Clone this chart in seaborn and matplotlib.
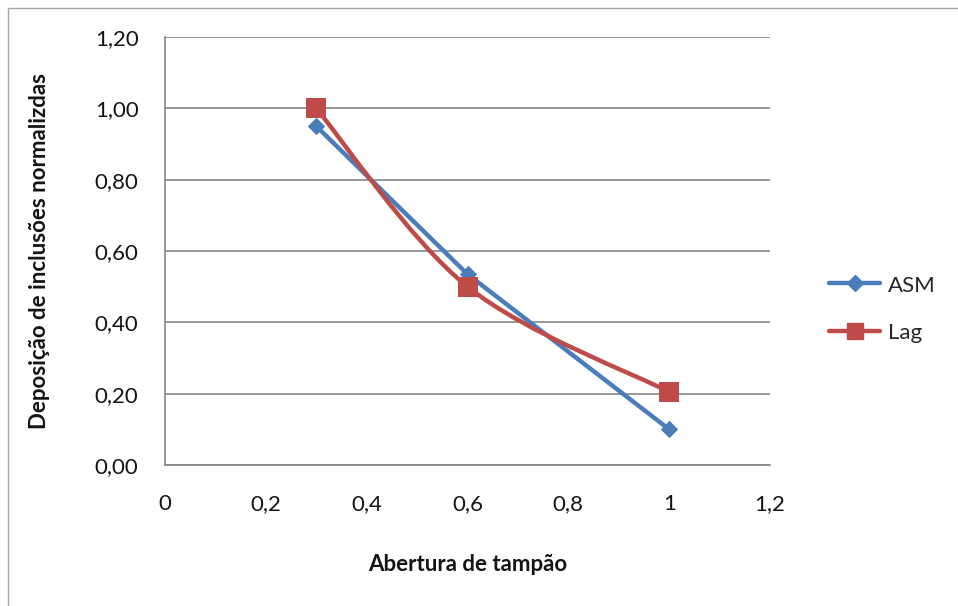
import numpy as np
import pandas as pd
import matplotlib
matplotlib.use("Agg")
import matplotlib.pyplot as plt
from matplotlib.path import Path
from matplotlib.patches import PathPatch, Rectangle
from matplotlib.lines import Line2D
from matplotlib.ticker import FuncFormatter
import seaborn as sns

# Data
abertura = [0.3, 0.6, 1.0]
asm_vals = [0.95, 0.535, 0.10]
lag_vals = [1.00, 0.50, 0.205]
series_names = ["ASM", "Lag"]
x_ticks = [0, 0.2, 0.4, 0.6, 0.8, 1.0, 1.2]
y_ticks = [0.0, 0.2, 0.4, 0.6, 0.8, 1.0, 1.2]

BLUE = "#4A7EBB"
RED = "#BE4B48"
GRID = "#868686"
TEXT = "#141414"
FS = 16

sns.set_theme(style="white")
plt.rcParams["font.family"] = ["Lato", "DejaVu Sans"]

df = pd.DataFrame({
    "x": abertura * 2,
    "y": asm_vals + lag_vals,
    "serie": [series_names[0]] * 3 + [series_names[1]] * 3,
})

fig = plt.figure(figsize=(9.58, 6.06), dpi=100)
ax = fig.add_axes([165 / 958, 1 - 465 / 606, (770 - 165) / 958, (465 - 37) / 606])

# Outer chart border
fig.add_artist(Rectangle((8 / 958, -0.05), 1.2, 1 - 8 / 606 + 0.05,
                         transform=fig.transFigure, fill=False,
                         edgecolor="#A6A6A6", linewidth=1.0))

# Horizontal gridlines
for yv in y_ticks:
    ax.axhline(yv, color=GRID, linewidth=1.2, zorder=0)

# ASM: straight segments with diamond markers
asm = df[df["serie"] == "ASM"]
sns.lineplot(data=asm, x="x", y="y", ax=ax, color=BLUE, linewidth=3.2,
             marker="D", markersize=8.5, markeredgecolor=BLUE, zorder=3,
             legend=False)

# Lag: smoothed (Catmull-Rom as cubic Bezier) with square markers
lag = df[df["serie"] == "Lag"]
pts = np.column_stack([lag["x"].to_numpy(), lag["y"].to_numpy()])
ext = np.vstack([pts[0], pts, pts[-1]])
verts = [tuple(pts[0])]
codes = [Path.MOVETO]
for i in range(len(pts) - 1):
    p0, p1, p2, p3 = ext[i], ext[i + 1], ext[i + 2], ext[i + 3]
    c1 = p1 + (p2 - p0) / 6.0
    c2 = p2 - (p3 - p1) / 6.0
    verts += [tuple(c1), tuple(c2), tuple(p2)]
    codes += [Path.CURVE4] * 3
ax.add_patch(PathPatch(Path(verts, codes), facecolor="none", edgecolor=RED,
                       linewidth=3.2, capstyle="round", joinstyle="round",
                       zorder=4))
sns.scatterplot(data=lag, x="x", y="y", ax=ax, color=RED, marker="s", s=210,
                edgecolor=RED, linewidth=0, zorder=5, legend=False)

ax.set_xlim(0, 1.2)
ax.set_ylim(0, 1.2)
ax.set_xticks(x_ticks)
ax.set_yticks(y_ticks)
ax.xaxis.set_major_formatter(FuncFormatter(lambda v, p: f"{v:g}".replace(".", ",")))
ax.yaxis.set_major_formatter(FuncFormatter(lambda v, p: f"{v:.2f}".replace(".", ",")))
ax.tick_params(axis="x", length=0, pad=21, labelsize=FS, colors=TEXT)
ax.tick_params(axis="y", length=0, pad=19, labelsize=FS, colors=TEXT)

for side in ["top", "right"]:
    ax.spines[side].set_visible(False)
for side in ["left", "bottom"]:
    ax.spines[side].set_color(GRID)
    ax.spines[side].set_linewidth(1.2)

ax.set_xlabel("Abertura de tampão", fontsize=FS, fontweight="bold",
              labelpad=29, color=TEXT)
ax.set_ylabel("Deposição de inclusões normalizdas", fontsize=FS,
              fontweight="bold", labelpad=32, color=TEXT)

handles = [
    Line2D([], [], color=BLUE, linewidth=3.2, marker="D", markersize=8.5),
    Line2D([], [], color=RED, linewidth=3.2, marker="s", markersize=11),
]
fig.legend(handles, series_names, loc="center left",
           bbox_to_anchor=(818 / 958, 1 - 309 / 606), frameon=False,
           fontsize=FS, handlelength=2.3, handletextpad=0.35,
           labelspacing=1.15, borderpad=0.0, handleheight=1.0)

fig.savefig("out.png", dpi=100, facecolor="white")
